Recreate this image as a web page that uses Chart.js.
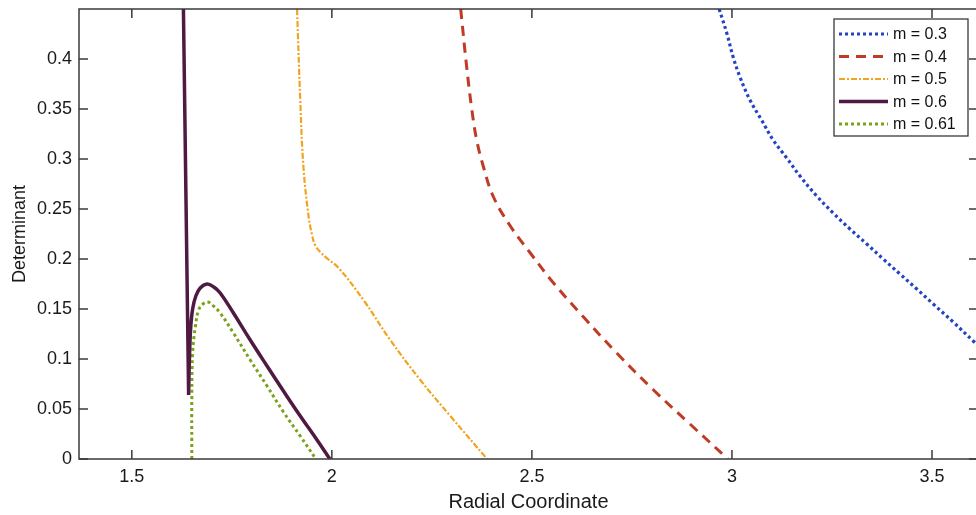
<!DOCTYPE html>
<html>
<head>
<meta charset="utf-8">
<script src="https://cdn.jsdelivr.net/npm/chart.js@4.4.0/dist/chart.umd.min.js"></script>
<style>
    html, body { margin: 0; padding: 0; background: #fff; overflow: hidden; }
    #wrap { width: 984px; height: 515px; }
</style>
</head>
<body>
<div id="wrap"><canvas id="chart-det" width="984" height="515"></canvas></div>
<script>
// determinant vs radial coordinate, one curve per m
const seriesLabels = ['m = 0.3', 'm = 0.4', 'm = 0.5', 'm = 0.6', 'm = 0.61'];

const m03 = [[2.968, 0.45], [2.987, 0.426], [3.003, 0.402], [3.020, 0.382], [3.045, 0.359],
    [3.074, 0.339], [3.103, 0.319], [3.137, 0.301], [3.170, 0.283], [3.212, 0.263],
    [3.253, 0.246], [3.295, 0.230], [3.337, 0.215], [3.378, 0.200], [3.420, 0.185],
    [3.462, 0.170], [3.503, 0.155], [3.553, 0.137], [3.603, 0.118], [3.620, 0.112]];
const m04 = [[2.322, 0.45], [2.337, 0.392], [2.350, 0.349], [2.362, 0.319], [2.379, 0.292],
    [2.404, 0.262], [2.446, 0.233], [2.496, 0.206], [2.554, 0.176], [2.629, 0.142],
    [2.712, 0.106], [2.804, 0.069], [2.895, 0.035], [2.990, 0]];
const m05 = [[1.913, 0.45], [1.921, 0.359], [1.929, 0.292], [1.942, 0.242], [1.950, 0.225],
    [1.958, 0.214], [1.971, 0.207], [1.990, 0.200], [2.017, 0.191], [2.079, 0.159],
    [2.146, 0.119], [2.221, 0.079], [2.296, 0.043], [2.388, 0]];
const m06 = [[1.629, 0.45], [1.642, 0.064], [1.642, 0.064], [1.644, 0.100], [1.647, 0.130],
    [1.652, 0.150], [1.660, 0.163], [1.671, 0.171], [1.688, 0.175], [1.705, 0.172],
    [1.721, 0.166], [1.754, 0.146], [1.796, 0.119], [1.838, 0.093], [1.879, 0.068],
    [1.921, 0.043], [1.963, 0.019], [1.995, 0]];
const m061 = [[1.650, 0], [1.650, 0.063], [1.652, 0.106], [1.659, 0.133], [1.667, 0.149],
    [1.678, 0.155], [1.690, 0.157], [1.704, 0.153], [1.721, 0.146], [1.754, 0.126],
    [1.796, 0.099], [1.838, 0.073], [1.879, 0.047], [1.921, 0.023], [1.960, 0]];

const xTickValues = [1.5, 2, 2.5, 3, 3.5];
const yTickValues = [0, 0.05, 0.1, 0.15, 0.2, 0.25, 0.3, 0.35, 0.4];

const FONT = "'Liberation Sans', Arial, Helvetica, sans-serif";
const AXIS_COLOR = '#3a3a3a';

function toPoints(pairs) {
    return pairs.map(p => ({x: p[0], y: p[1]}));
}

const styles = [
    {color: '#2243c4', width: 3.2, dash: [3, 3]},
    {color: '#bf3b25', width: 3, dash: [10, 7]},
    {color: '#f2a421', width: 2.2, dash: [6, 2, 2, 2]},
    {color: '#4e1a42', width: 3.5, dash: []},
    {color: '#7ba21c', width: 3, dash: [3, 3]}
];

const datasets = [m03, m04, m05, m06, m061].map(function (series, i) {
    return {
        label: seriesLabels[i],
        data: toPoints(series),
        showLine: true,
        borderColor: styles[i].color,
        borderWidth: styles[i].width,
        borderDash: styles[i].dash,
        borderCapStyle: 'butt',
        tension: 0.4,
        pointRadius: 0,
        fill: false
    };
});

// box around the plot with inward ticks on all four sides
const boxAxes = {
    id: 'boxAxes',
    afterDatasetsDraw(chart) {
        const {ctx, chartArea: a, scales} = chart;
        const len = 9;
        ctx.save();
        ctx.strokeStyle = AXIS_COLOR;
        ctx.lineWidth = 1.5;
        ctx.setLineDash([]);
        ctx.strokeRect(a.left, a.top, a.right - a.left, a.bottom - a.top);
        ctx.beginPath();
        xTickValues.forEach(function (v) {
            const px = scales.x.getPixelForValue(v);
            ctx.moveTo(px, a.bottom); ctx.lineTo(px, a.bottom - len);
            ctx.moveTo(px, a.top); ctx.lineTo(px, a.top + len);
        });
        yTickValues.forEach(function (v) {
            const py = scales.y.getPixelForValue(v);
            ctx.moveTo(a.left, py); ctx.lineTo(a.left + len, py);
            ctx.moveTo(a.right, py); ctx.lineTo(a.right - len, py);
        });
        ctx.stroke();
        ctx.restore();
    }
};

// framed legend in the upper right corner of the plot
const boxLegend = {
    id: 'boxLegend',
    afterDraw(chart) {
        const {ctx, chartArea: a} = chart;
        const w = 134, rowH = 22.5;
        const h = 117;
        const left = a.right - 10 - w, top = a.top + 10;
        ctx.save();
        ctx.fillStyle = '#fff';
        ctx.fillRect(left, top, w, h);
        ctx.strokeStyle = AXIS_COLOR;
        ctx.lineWidth = 1.3;
        ctx.setLineDash([]);
        ctx.strokeRect(left, top, w, h);
        ctx.font = '16px ' + FONT;
        ctx.textBaseline = 'middle';
        chart.data.datasets.forEach(function (ds, i) {
            const y = top + 15 + i * rowH;
            ctx.beginPath();
            ctx.strokeStyle = ds.borderColor;
            ctx.lineWidth = ds.borderWidth;
            ctx.lineCap = 'butt';
            ctx.setLineDash(ds.borderDash);
            ctx.moveTo(left + 5, y);
            ctx.lineTo(left + 54, y);
            ctx.stroke();
            ctx.setLineDash([]);
            ctx.fillStyle = '#111';
            ctx.fillText(ds.label, left + 59, y + 1);
        });
        ctx.restore();
    }
};

const chartDet = new Chart(document.getElementById('chart-det'), {
    type: 'scatter',
    data: {datasets: datasets},
    options: {
        responsive: false,
        animation: false,
        devicePixelRatio: 1,
        layout: {padding: {top: 9, right: 6, left: 0, bottom: 0}},
        plugins: {
            legend: {display: false},
            tooltip: {enabled: false}
        },
        scales: {
            x: {
                type: 'linear',
                min: 1.368,
                max: 3.615,
                afterFit: function (scale) {
                    scale.height = 56;
                    scale.paddingLeft = 0;
                    scale.paddingRight = 0;
                },
                afterBuildTicks: function (scale) {
                    scale.ticks = xTickValues.map(v => ({value: v}));
                },
                grid: {display: false, drawTicks: false},
                border: {display: false},
                ticks: {
                    padding: 7,
                    color: '#1a1a1a',
                    font: {family: FONT, size: 18},
                    callback: v => String(v)
                },
                title: {
                    display: true,
                    text: 'Radial Coordinate',
                    color: '#1a1a1a',
                    font: {family: FONT, size: 20},
                    padding: {top: 0, bottom: 1}
                }
            },
            y: {
                type: 'linear',
                min: 0,
                max: 0.45,
                afterFit: function (scale) {
                    scale.width = 79;
                    scale.paddingTop = 0;
                    scale.paddingBottom = 0;
                },
                afterBuildTicks: function (scale) {
                    scale.ticks = yTickValues.map(v => ({value: v}));
                },
                grid: {display: false, drawTicks: false},
                border: {display: false},
                ticks: {
                    padding: 7,
                    color: '#1a1a1a',
                    font: {family: FONT, size: 18},
                    callback: v => String(v)
                },
                title: {
                    display: true,
                    text: 'Determinant',
                    color: '#1a1a1a',
                    font: {family: FONT, size: 18},
                    padding: {top: 9, bottom: 0}
                }
            }
        }
    },
    plugins: [boxAxes, boxLegend]
});
</script>
</body>
</html>
